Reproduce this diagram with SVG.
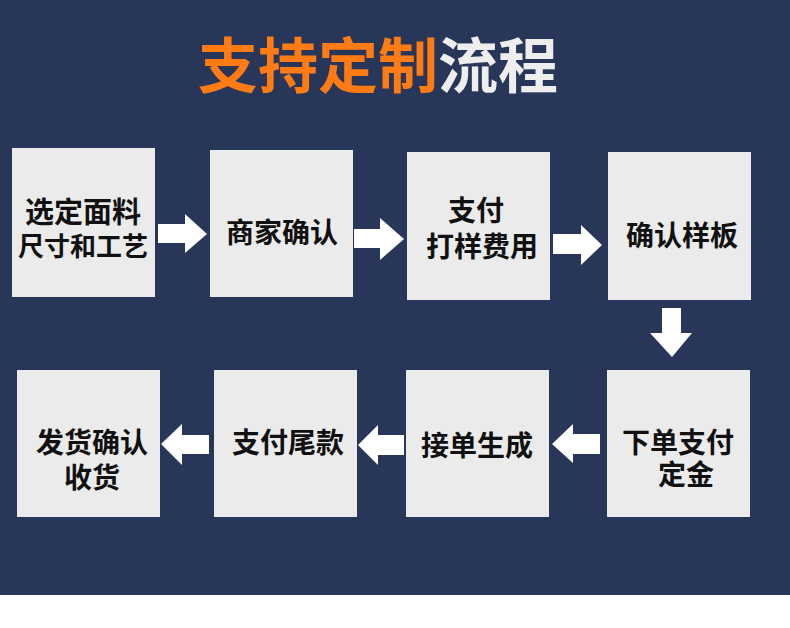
<svg xmlns="http://www.w3.org/2000/svg" width="790" height="628" viewBox="0 0 790 628">
<style>
.bg{fill:#283659}
.box{fill:#EBEBEB}
.t{font-family:"Noto Sans CJK SC","Noto Sans",sans-serif;font-weight:bold;fill:#111111;text-anchor:middle}
.title{font-family:"Noto Sans CJK SC","Noto Sans",sans-serif;font-weight:bold;font-size:60px;text-anchor:middle}
.arr{fill:#FFFFFF}
</style>
<rect x="0" y="0" width="790" height="628" fill="#FFFFFF"/>
<rect class="bg" x="0" y="0" width="790" height="595"/>
<text class="title" x="378" y="88"><tspan fill="#FF7B14">支持定制</tspan><tspan fill="#EEEEEE">流程</tspan></text>
<g id="n1"><rect class="box" x="12" y="148" width="143" height="149"/><text class="t" x="83" y="223" font-size="29">选定面料</text><text class="t" x="83" y="256" font-size="26">尺寸和工艺</text></g>
<g id="n2"><rect class="box" x="210" y="150" width="143" height="147"/><text class="t" x="282" y="243" font-size="28">商家确认</text></g>
<g id="n3"><rect class="box" x="407" y="152" width="143" height="148"/><text class="t" x="476" y="221" font-size="28">支付</text><text class="t" x="482" y="257" font-size="28">打样费用</text></g>
<g id="n4"><rect class="box" x="608" y="152" width="143" height="148"/><text class="t" x="682" y="246" font-size="28">确认样板</text></g>
<g id="n5"><rect class="box" x="607" y="370" width="143" height="147"/><text class="t" x="678" y="453" font-size="28">下单支付</text><text class="t" x="686" y="485" font-size="28">定金</text></g>
<g id="n6"><rect class="box" x="406" y="370" width="143" height="147"/><text class="t" x="477" y="456" font-size="28">接单生成</text></g>
<g id="n7"><rect class="box" x="214" y="370" width="143" height="147"/><text class="t" x="288" y="453" font-size="28">支付尾款</text></g>
<g id="n8"><rect class="box" x="17" y="370" width="143" height="147"/><text class="t" x="92" y="453" font-size="28">发货确认</text><text class="t" x="92" y="488" font-size="28">收货</text></g>
<g id="connectors">
<polygon class="arr" points="158,224 185,224 185,214 207,234 185,253 185,243 158,243"/>
<polygon class="arr" points="354,229 380,229 380,218 404,239 380,260 380,248 354,248"/>
<polygon class="arr" points="553,234 581,234 581,225 602,245 581,265 581,254 553,254"/>
<polygon class="arr" points="662,308 681,308 681,333 692,333 672,357 650,333 662,333"/>
<polygon class="arr" points="600,434 573,434 573,424 552,444 573,463 573,454 600,454"/>
<polygon class="arr" points="404,435 378,435 378,425 358,445 378,465 378,455 404,455"/>
<polygon class="arr" points="209,435 182,435 182,424 161,444 182,465 182,454 209,454"/>
</g>
</svg>
